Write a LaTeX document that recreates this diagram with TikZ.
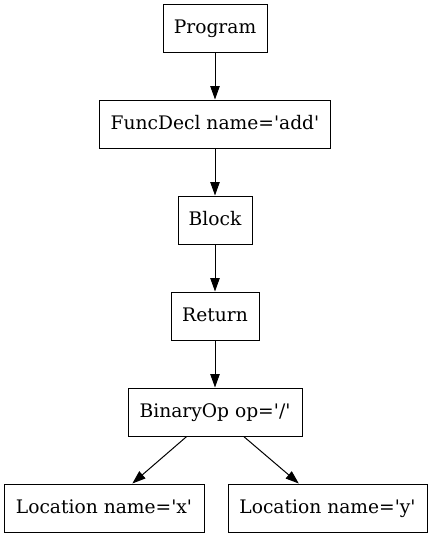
\documentclass[tikz,border=0pt]{standalone}
\usepackage{fontspec}
\setmainfont{DejaVu Serif}
\usetikzlibrary{arrows.meta}
\newcommand{\sq}{\textquotesingle}
\begin{document}
\begin{tikzpicture}[x=0.75pt,y=-0.75pt,
  box/.style={draw, line width=0.75pt, rectangle, inner sep=0pt, minimum height=36pt, text height=12pt, text depth=4.5pt, font=\fontsize{14pt}{17pt}\selectfont},
  edge/.style={line width=0.75pt, -{Triangle[length=10pt,width=7pt]}}]
\useasboundingbox (0,0) rectangle (432,539);
\node[box, minimum width=78pt] (prog) at (215,28) {Program};
\node[box, minimum width=173.25pt] (func) at (215,124) {FuncDecl name=\sq add\sq};
\node[box, minimum width=55.5pt] (blk) at (215,220) {Block};
\node[box, minimum width=66pt] (ret) at (215,316) {Return};
\node[box, minimum width=130.5pt] (bin) at (215,412) {BinaryOp op=\sq/\sq};
\node[box, minimum width=150pt] (lx) at (104,508) {Location name=\sq x\sq};
\node[box, minimum width=149.25pt] (ly) at (327.5,508) {Location name=\sq y\sq};
\draw[edge] (prog) -- (func);
\draw[edge] (func) -- (blk);
\draw[edge] (blk) -- (ret);
\draw[edge] (ret) -- (bin);
\draw[edge] (bin) -- (lx);
\draw[edge] (bin) -- (ly);
\end{tikzpicture}
\end{document}
